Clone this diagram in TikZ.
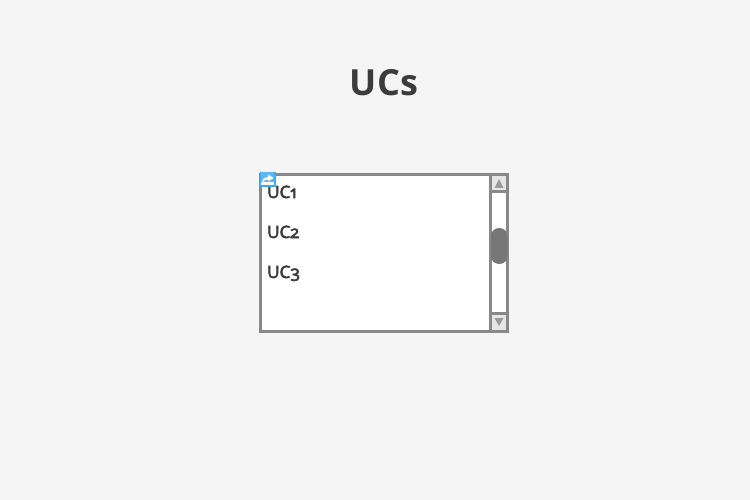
\documentclass[tikz,border=0pt]{standalone}
\usepackage{fontspec}
\setmainfont[Numbers=OldStyle]{Open Sans}
\definecolor{bgc}{HTML}{F5F5F5}
\definecolor{ink}{HTML}{3C3C3C}
\definecolor{frm}{HTML}{888888}
\definecolor{btn}{HTML}{E6E6E6}
\definecolor{arr}{HTML}{999999}
\definecolor{thumb}{HTML}{777777}
\definecolor{linkc}{HTML}{3FA9F5}
\newfontfamily\itemfont[Numbers=OldStyle,FakeBold=3.5]{Open Sans}
\tikzset{
  label text/.style={font=\fontsize{17}{20}\selectfont\itemfont, text=ink, inner sep=0pt, anchor=base west},
  frame/.style={draw=frm, line width=3pt}
}
\begin{document}
\begin{tikzpicture}[x=1pt,y=-1pt]
\path[use as bounding box, fill=bgc] (0,0) rectangle (750,500);
\node[font=\fontsize{36}{40}\selectfont\bfseries, text=ink, inner sep=0pt, anchor=base] (title) at (384,95.5) {UCs};
% list box
\draw[frame, fill=white] (260.5,174.5) rectangle (507.5,331.5);
% scrollbar
\draw[frame, fill=white] (490.5,174.5) rectangle (507.5,331.5);
\draw[frame, fill=btn] (490.5,174.5) rectangle (507.5,191.5);
\draw[frame, fill=btn] (490.5,313) rectangle (507.5,331.5);
\fill[arr] (499,179) -- (503.5,188) -- (494.5,188) -- cycle;
\fill[arr] (494.5,318) -- (503.5,318) -- (499,326) -- cycle;
\fill[thumb, rounded corners=8pt] (491,228) rectangle (507.5,264);
% items
\node[label text] (uca) at (267,198) {UC1};
\node[label text] (ucb) at (267,238) {UC2};
\node[label text] (ucc) at (267,278) {UC3};
% link badge
\fill[white] (259.5,172) rectangle (275.5,187.5);
\fill[linkc!85!white] (259.5,172) rectangle (275.5,182.5);
\fill[linkc] (259.5,185.5) rectangle (275.5,187.5);
\fill[linkc] (259.5,172) rectangle (261,187.5);
\fill[linkc] (274,172) rectangle (275.5,187.5);
\fill[white] (262,182.5) .. controls (262.5,178.5) and (265,177) .. (268,177) -- (268,174.5) -- (273.5,178) -- (268,181.5) -- (268,179.5) .. controls (265.5,179.5) and (263.5,180.5) .. (262,182.5) -- cycle;
\end{tikzpicture}
\end{document}
